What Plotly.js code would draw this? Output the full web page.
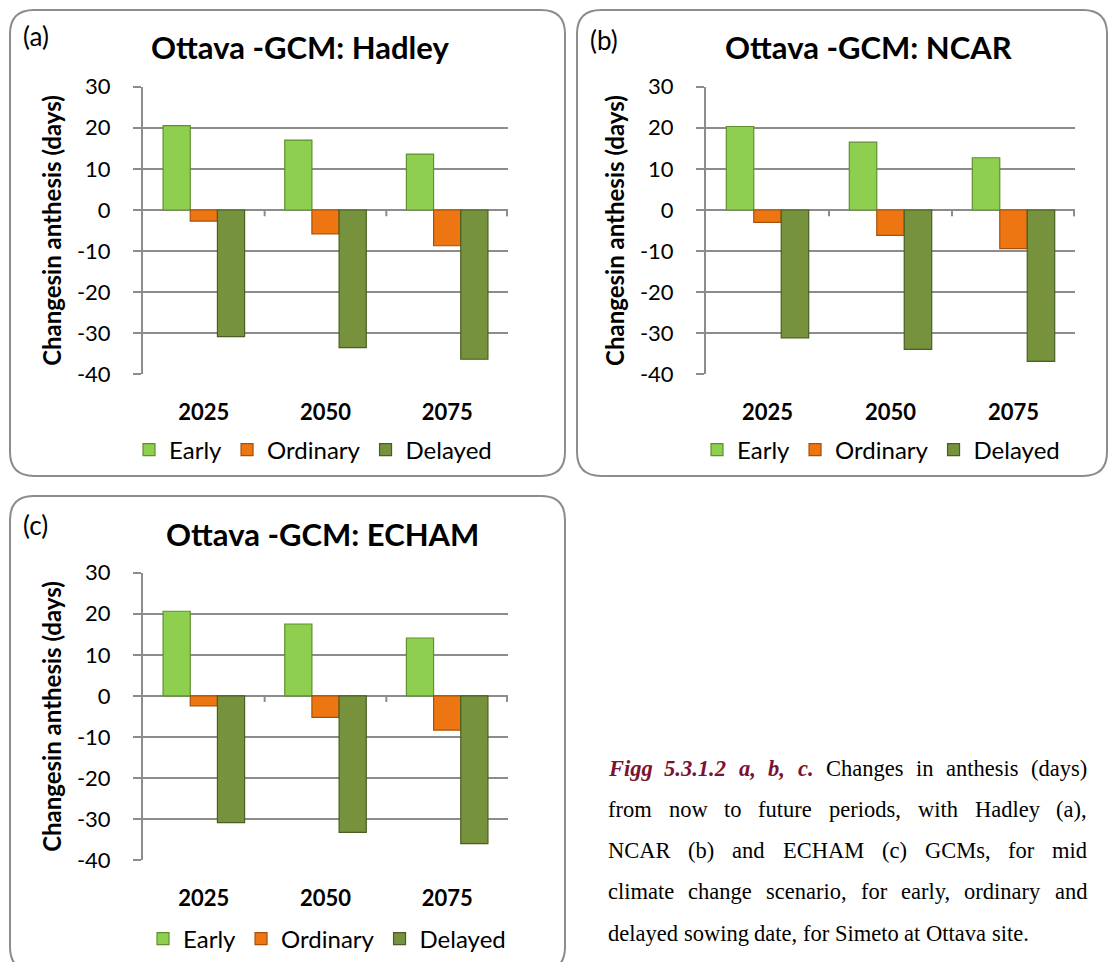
<!DOCTYPE html>
<html>
<head>
<meta charset="utf-8">
<script src="https://cdn.plot.ly/plotly-3.0.1.min.js"></script>
<style>html,body{margin:0;padding:0;background:#fff;}#chart{width:1115px;height:962px;}</style>
</head>
<body>
<div id="chart"></div>
<script>
// ---------------- DATA ----------------
const categories = ['2025', '2050', '2075'];
const seriesNames = ['Early', 'Ordinary', 'Delayed'];

const hadleyEarly    = [20.5, 17.0, 13.6];
const hadleyOrdinary = [-2.7, -5.8, -8.7];
const hadleyDelayed  = [-30.8, -33.5, -36.3];

const ncarEarly    = [20.3, 16.5, 12.7];
const ncarOrdinary = [-3.0, -6.2, -9.4];
const ncarDelayed  = [-31.1, -33.9, -36.8];

const echamEarly    = [20.6, 17.5, 14.1];
const echamOrdinary = [-2.4, -5.2, -8.3];
const echamDelayed  = [-30.8, -33.2, -35.9];

const yTickValues = [30, 20, 10, 0, -10, -20, -30, -40];
const panelLabels = ['(a)', '(b)', '(c)'];
const panelTitles = ['Ottava -GCM: Hadley', 'Ottava -GCM: NCAR', 'Ottava -GCM: ECHAM'];
const yAxisTitle = 'Changesin anthesis (days)';

const captionHead = 'Figg 5.3.1.2 a, b, c.';
const captionLines = [
  'Changes in anthesis (days)',
  'from now to future periods, with Hadley (a),',
  'NCAR (b) and ECHAM (c) GCMs, for mid',
  'climate change scenario, for early, ordinary and',
  'delayed sowing date, for Simeto at Ottava site.'
];

// ---------------- STYLE / LAYOUT ----------------
const W = 1115, H = 962;
const px = x => x / W;
const py = y => 1 - y / H;
const FONT = 'Lato, "Open Sans", sans-serif';
const colors = ['#8fcf50', '#ee7612', '#76923c'];
const lineColors = ['#5f8f2f', '#a85008', '#4a5e22'];
const gridColor = '#8c8c8c';

const panelData = [
  [hadleyEarly, hadleyOrdinary, hadleyDelayed],
  [ncarEarly, ncarOrdinary, ncarDelayed],
  [echamEarly, echamOrdinary, echamDelayed]
];

const panels = [
  {box: [10, 10, 565, 478], plot: [143, 87, 508, 376], titleX: 300, titleY: 47, labX: 21, labY: 36, legX: 313, legY: 452},
  {box: [577, 10, 1107, 478], plot: [706, 87, 1075, 376], titleX: 868, titleY: 47, labX: 588, labY: 40, legX: 881, legY: 452},
  {box: [10, 498, 565, 975], plot: [143, 575, 508, 864], titleX: 322, titleY: 536, labX: 21, labY: 527, legX: 327, legY: 943}
];

const traces = [];
const layout = {
  width: W, height: H,
  margin: {l: 0, r: 0, t: 0, b: 0},
  paper_bgcolor: '#fff', plot_bgcolor: 'rgba(0,0,0,0)',
  font: {family: FONT, color: '#000'},
  barmode: 'group', bargap: 0.33, bargroupgap: 0,
  shapes: [], annotations: []
};

function roundedRect(x0, y0, x1, y1, r) {
  const rx = r / W, ry = r / H;
  const X0 = px(x0), X1 = px(x1), Y0 = py(y0), Y1 = py(y1);
  return `M ${X0 + rx},${Y0} L ${X1 - rx},${Y0} Q ${X1},${Y0} ${X1},${Y0 - ry} ` +
         `L ${X1},${Y1 + ry} Q ${X1},${Y1} ${X1 - rx},${Y1} L ${X0 + rx},${Y1} ` +
         `Q ${X0},${Y1} ${X0},${Y1 + ry} L ${X0},${Y0 - ry} Q ${X0},${Y0} ${X0 + rx},${Y0} Z`;
}

panels.forEach((p, i) => {
  const sfx = i === 0 ? '' : String(i + 1);
  const xa = 'xaxis' + sfx, ya = 'yaxis' + sfx, lg = 'legend' + sfx;
  panelData[i].forEach((vals, s) => {
    traces.push({
      type: 'bar', x: categories, y: vals, name: seriesNames[s],
      xaxis: 'x' + sfx, yaxis: 'y' + sfx, legend: lg,
      marker: {color: colors[s], line: {color: lineColors[s], width: 1.2}},
      hoverinfo: 'x+y+name'
    });
  });
  layout[xa] = {
    domain: [px(p.plot[0]), px(p.plot[2])], anchor: 'y' + sfx,
    type: 'category', showgrid: false, zeroline: false, showline: false,
    ticks: 'outside', ticklen: 18, tickcolor: 'rgba(0,0,0,0)',
    tickfont: {family: FONT, size: 22, weight: 'bold', color: '#000'},
    range: [-0.5, 2.5], fixedrange: true
  };
  layout[ya] = {
    domain: [py(p.plot[3]), py(p.plot[1])], anchor: 'x' + sfx,
    range: [-40, 30], tickmode: 'array', tickvals: yTickValues,
    ticktext: yTickValues.map(String),
    showgrid: true, gridcolor: gridColor, gridwidth: 2,
    zeroline: true, zerolinecolor: gridColor, zerolinewidth: 2,
    showline: true, linecolor: gridColor, linewidth: 2,
    ticks: 'outside', ticklen: 8, tickwidth: 2, tickcolor: gridColor,
    ticklabelstandoff: 18,
    tickfont: {family: FONT, size: 22, color: '#000'},
    title: {text: yAxisTitle, font: {family: FONT, size: 24, weight: 'bold', color: '#000'}, standoff: 8},
    fixedrange: true
  };
  layout[lg] = {
    orientation: 'h', x: px(p.legX), y: py(p.legY), xanchor: 'center', yanchor: 'middle',
    font: {family: FONT, size: 24, color: '#000'}, bgcolor: 'rgba(0,0,0,0)',
    itemwidth: 30, traceorder: 'normal'
  };
  // panel frame
  layout.shapes.push({type: 'path', xref: 'paper', yref: 'paper', path: roundedRect(p.box[0], p.box[1], p.box[2], p.box[3], 24),
    line: {color: '#8c8c8c', width: 2}, fillcolor: 'rgba(0,0,0,0)', layer: 'below'});
  // tick marks on the zero axis at category boundaries
  [0.5, 1.5, 2.5].forEach(b => {
    layout.shapes.push({type: 'line', xref: 'x' + sfx, yref: 'y' + sfx, x0: b, x1: b, y0: 0, y1: -1.5,
      line: {color: gridColor, width: 2}});
  });
  layout.shapes.push({type: 'line', xref: 'paper', yref: 'y' + sfx, x0: px(p.plot[2]) - 1 / W, x1: px(p.plot[2]) - 1 / W, y0: 0, y1: -1.5,
    line: {color: gridColor, width: 2}});
  // titles
  layout.annotations.push({xref: 'paper', yref: 'paper', x: px(p.titleX), y: py(p.titleY), xanchor: 'center', yanchor: 'middle',
    text: panelTitles[i], showarrow: false, font: {family: FONT, size: 31, weight: 'bold', color: '#000'}});
  layout.annotations.push({xref: 'paper', yref: 'paper', x: px(p.labX), y: py(p.labY), xanchor: 'left', yanchor: 'middle',
    text: panelLabels[i], showarrow: false, font: {family: FONT, size: 26, color: '#000'}});
});

// ---------------- CAPTION (justified, measured) ----------------
const capFont = '"Liberation Serif", "Times New Roman", serif';
const capSize = 22.5;
const capX0 = 607, capX1 = 1086;
const capY = [772, 813, 854, 895, 937];
const ctx = document.createElement('canvas').getContext('2d');
function measure(word, bi) {
  ctx.font = (bi ? 'italic bold ' : '') + capSize + 'px "Liberation Serif"';
  return ctx.measureText(word).width;
}
captionLines.forEach((line, li) => {
  let words = line.split(' ').map(w => ({t: w, bi: false}));
  if (li === 0) words = captionHead.split(' ').map(w => ({t: w, bi: true})).concat(words);
  const widths = words.map(w => measure(w.t, w.bi));
  const total = widths.reduce((a, b) => a + b, 0);
  const justify = li < captionLines.length - 1;
  const gap = justify ? (capX1 - capX0 - total) / (words.length - 1) : measure(' ', false);
  let x = capX0;
  words.forEach((w, k) => {
    layout.annotations.push({xref: 'paper', yref: 'paper', x: px(x), y: py(capY[li]), xanchor: 'left', yanchor: 'middle',
      text: w.bi ? '<b><i>' + w.t + '</i></b>' : w.t, showarrow: false, borderpad: 0,
      font: {family: capFont, size: capSize, color: w.bi ? '#7a1232' : '#000'}});
    x += widths[k] + gap;
  });
});

Plotly.newPlot('chart', traces, layout, {displayModeBar: false, staticPlot: true});
</script>
</body>
</html>
